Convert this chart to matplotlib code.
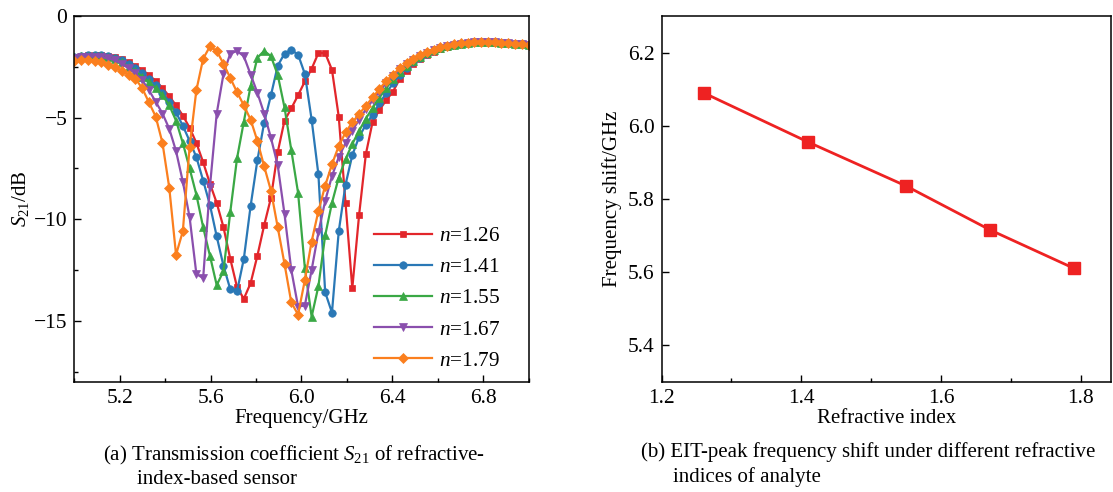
import numpy as np
import matplotlib
matplotlib.use("Agg")
import matplotlib.pyplot as plt
from matplotlib.ticker import MultipleLocator

plt.rcParams["font.family"] = "Liberation Serif"
plt.rcParams["mathtext.fontset"] = "custom"
plt.rcParams["mathtext.rm"] = "Liberation Serif"
plt.rcParams["mathtext.it"] = "Liberation Serif:italic"
plt.rcParams["font.size"] = 15

# sweep points of the S21 simulation (GHz)
freq = np.linspace(5.0, 7.0, 68)

# S21 (dB) for each analyte refractive index
s21_126 = [-2.00, -1.96, -1.93, -1.92, -1.93, -1.97, -2.03, -2.13, -2.28, -2.45,
           -2.65, -2.90, -3.20, -3.55, -3.95, -4.40, -4.90, -5.50, -6.25, -7.20,
           -8.25, -9.20, -10.40, -11.95, -13.35, -13.92, -13.15, -11.80, -10.30, -8.95,
           -6.70, -5.15, -4.55, -3.90, -3.22, -2.60, -1.82, -1.83, -2.65, -4.95,
           -9.20, -13.40, -9.80, -6.80, -5.20, -4.62, -4.15, -3.72, -3.10, -2.70,
           -2.35, -2.10, -1.92, -1.76, -1.63, -1.52, -1.44, -1.38, -1.33, -1.30,
           -1.29, -1.29, -1.31, -1.33, -1.35, -1.37, -1.40, -1.42]
s21_141 = [-2.02, -1.97, -1.94, -1.93, -1.94, -1.98, -2.05, -2.17, -2.35, -2.55,
           -2.80, -3.10, -3.42, -3.80, -4.22, -4.75, -5.40, -6.15, -6.95, -8.10,
           -9.30, -10.85, -12.30, -13.45, -13.55, -11.95, -9.35, -7.10, -5.25, -3.90,
           -2.45, -1.85, -1.67, -1.90, -2.85, -5.10, -7.80, -13.60, -14.60, -10.60,
           -8.30, -6.85, -5.95, -5.35, -4.85, -4.30, -3.80, -3.32, -2.90, -2.55,
           -2.28, -2.05, -1.87, -1.72, -1.60, -1.50, -1.43, -1.37, -1.32, -1.29,
           -1.28, -1.28, -1.30, -1.32, -1.35, -1.37, -1.40, -1.42]
s21_155 = [-2.04, -1.99, -1.96, -1.95, -1.97, -2.02, -2.10, -2.25, -2.50, -2.72,
           -2.98, -3.25, -3.55, -3.90, -4.40, -5.15, -6.25, -7.50, -8.80, -10.40,
           -11.80, -13.25, -12.55, -9.65, -7.00, -5.20, -3.45, -2.05, -1.72, -1.98,
           -2.90, -4.50, -6.60, -8.70, -12.40, -14.80, -13.30, -10.80, -9.20, -7.95,
           -7.05, -6.30, -5.65, -5.05, -4.52, -4.02, -3.55, -3.12, -2.75, -2.45,
           -2.20, -2.00, -1.83, -1.69, -1.58, -1.49, -1.42, -1.36, -1.32, -1.29,
           -1.28, -1.28, -1.30, -1.32, -1.35, -1.37, -1.40, -1.42]
s21_167 = [-2.08, -2.03, -2.00, -2.00, -2.03, -2.08, -2.18, -2.35, -2.58, -2.82,
           -3.15, -3.65, -4.22, -4.80, -5.55, -6.65, -8.15, -9.90, -12.70, -12.90,
           -8.40, -4.80, -2.85, -1.85, -1.72, -1.98, -2.88, -3.78, -4.80, -6.00,
           -7.35, -9.75, -12.50, -14.30, -14.25, -12.50, -10.65, -9.10, -7.88, -6.95,
           -6.25, -5.65, -5.10, -4.60, -4.15, -3.72, -3.30, -2.95, -2.63, -2.38,
           -2.15, -1.96, -1.80, -1.67, -1.56, -1.48, -1.41, -1.36, -1.32, -1.29,
           -1.28, -1.28, -1.30, -1.32, -1.35, -1.37, -1.40, -1.42]
s21_179 = [-2.20, -2.15, -2.15, -2.20, -2.28, -2.40, -2.53, -2.70, -2.88, -3.08,
           -3.55, -4.25, -4.95, -6.25, -8.45, -11.75, -10.60, -6.45, -3.65, -2.10,
           -1.50, -1.72, -2.35, -3.05, -3.75, -4.40, -5.10, -6.15, -7.40, -8.60,
           -10.40, -12.20, -14.10, -14.70, -13.00, -11.10, -9.60, -8.35, -7.30, -6.40,
           -5.73, -5.24, -4.83, -4.42, -4.01, -3.60, -3.19, -2.88, -2.58, -2.33,
           -2.12, -1.93, -1.78, -1.65, -1.55, -1.47, -1.40, -1.35, -1.31, -1.28,
           -1.27, -1.28, -1.30, -1.32, -1.35, -1.37, -1.40, -1.42]

# EIT peak frequency versus refractive index
ref_index = [1.26, 1.41, 1.55, 1.67, 1.79]
peak_freq = [6.09, 5.955, 5.835, 5.715, 5.61]

curves = [s21_126, s21_141, s21_155, s21_167, s21_179]
labels = ["$n$=1.26", "$n$=1.41", "$n$=1.55", "$n$=1.67", "$n$=1.79"]
colors = ["#e2262b", "#2a78b6", "#3aa845", "#8a4fad", "#fb7f1e"]
markers = ["s", "o", "^", "v", "D"]
msizes = [4.8, 5.4, 5.8, 5.8, 4.8]

fig = plt.figure(figsize=(11.13, 4.92), dpi=100)
ax1 = fig.add_axes([0.0668, 0.2242, 0.4081, 0.7433])
ax2 = fig.add_axes([0.5944, 0.2242, 0.4038, 0.7433])

for y, lab, c, m, ms in zip(curves, labels, colors, markers, msizes):
    ax1.plot(freq, y, color=c, marker=m, markersize=ms, linewidth=1.6,
             markeredgewidth=0.5, label=lab)

ax1.set_xlim(5.0, 7.0)
ax1.set_ylim(-18, 0)
ax1.xaxis.set_minor_locator(MultipleLocator(0.2))
ax1.yaxis.set_major_locator(MultipleLocator(5))
ax1.yaxis.set_minor_locator(MultipleLocator(2.5))
ax1.set_xticks([5.2, 5.6, 6.0, 6.4, 6.8])
ax1.set_xticklabels(["5.2", "5.6", "6.0", "6.4", "6.8"])
ax1.set_xlabel("Frequency/GHz", labelpad=1)
ax1.set_ylabel("$S_{\\mathrm{21}}$/dB", labelpad=2)
ax1.legend(loc="upper left", bbox_to_anchor=(0.66, 0.425), frameon=False,
           handlelength=2.7, handletextpad=0.33, labelspacing=0.53,
           borderpad=0, borderaxespad=0, fontsize=15.3)

ax2.plot(ref_index, peak_freq, color="#ee2222", marker="s", markersize=8,
         linewidth=2.0)
ax2.set_xlim(1.2, 1.843)
ax2.set_ylim(5.3, 6.3)
ax2.xaxis.set_major_locator(MultipleLocator(0.2))
ax2.xaxis.set_minor_locator(MultipleLocator(0.1))
ax2.yaxis.set_major_locator(MultipleLocator(0.2))
ax2.set_xlabel("Refractive index", labelpad=1)
ax2.set_ylabel("Frequency shift/GHz", labelpad=4)

for ax in (ax1, ax2):
    for sp in ax.spines.values():
        sp.set_linewidth(1.1)
    ax.tick_params(which="both", direction="in", top=False, right=False,
                   width=1.0, labelsize=15.5)
    ax.tick_params(which="major", length=5, pad=5)
    ax.tick_params(which="minor", length=3)

fig.text(103 / 1113, 1 - 455 / 492,
         "(a) Transmission coefficient $S_{\\mathrm{21}}$ of refractive-",
         ha="left", va="center", fontsize=15)
fig.text(137 / 1113, 1 - 480 / 492, "index-based sensor",
         ha="left", va="center", fontsize=15)
fig.text(641 / 1113, 1 - 452 / 492,
         "(b) EIT-peak frequency shift under different refractive",
         ha="left", va="center", fontsize=15)
fig.text(673 / 1113, 1 - 477 / 492, "indices of analyte",
         ha="left", va="center", fontsize=15)

fig.savefig("out.png", dpi=100)
